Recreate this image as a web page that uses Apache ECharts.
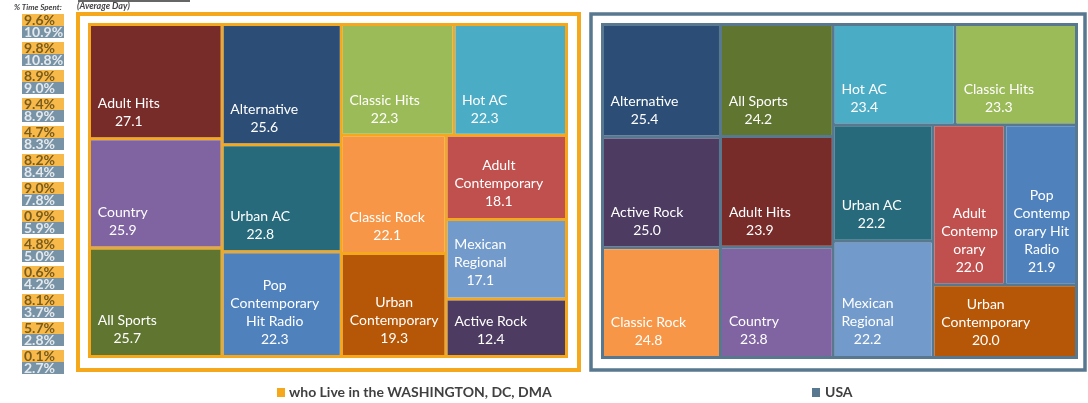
<!DOCTYPE html>
<html>
<head>
<meta charset="utf-8">
<script src="https://cdn.jsdelivr.net/npm/echarts@6/dist/echarts.min.js"></script>
<style>
html, body { margin: 0; padding: 0; background: #fff; }
#main { width: 1088px; height: 403px; }
</style>
</head>
<body>
<div id="main"></div>
<script>
// radio formats, average quarter-hour audience (DC DMA vs USA)
var dcFormats = ['Adult Hits', 'Country', 'All Sports', 'Alternative', 'Urban AC',
  'Pop Contemporary Hit Radio', 'Classic Hits', 'Hot AC', 'Classic Rock',
  'Urban Contemporary', 'Adult Contemporary', 'Mexican Regional', 'Active Rock'];
var dcValues = [27.1, 25.9, 25.7, 25.6, 22.8, 22.3, 22.3, 22.3, 22.1, 19.3, 18.1, 17.1, 12.4];

var usFormats = ['Alternative', 'Active Rock', 'Classic Rock', 'All Sports', 'Adult Hits',
  'Country', 'Hot AC', 'Classic Hits', 'Urban AC', 'Mexican Regional',
  'Adult Contemporary', 'Pop Contemporary Hit Radio', 'Urban Contemporary'];
var usValues = [25.4, 25.0, 24.8, 24.2, 23.9, 23.8, 23.4, 23.3, 22.2, 22.2, 22.0, 21.9, 20.0];

// % time spent badges (average day)
var shareRows = ['1', '2', '3', '4', '5', '6', '7', '8', '9', '10', '11', '12', '13'];
var dcShare = [9.6, 9.8, 8.9, 9.4, 4.7, 8.2, 9.0, 0.9, 4.8, 0.6, 8.1, 5.7, 0.1];
var usShare = [10.9, 10.8, 9.0, 8.9, 8.3, 8.4, 7.8, 5.9, 5.0, 4.2, 3.7, 2.8, 2.7];

var ORANGE = '#f5a81c';
var BLUE = '#587890';
var LINE_H = 18;

var colors = {
  'Adult Hits': '#772c2a',
  'Alternative': '#2c4d75',
  'Classic Hits': '#9bbb59',
  'Hot AC': '#4bacc6',
  'Country': '#8064a2',
  'Urban AC': '#276a7c',
  'Classic Rock': '#f79646',
  'Adult Contemporary': '#c0504d',
  'Mexican Regional': '#729aca',
  'All Sports': '#5f7530',
  'Pop Contemporary Hit Radio': '#4f81bd',
  'Urban Contemporary': '#b65708',
  'Active Rock': '#4d3b62'
};

var dcWrap = {
  'Adult Contemporary': 'Adult\nContemporary',
  'Mexican Regional': 'Mexican\nRegional',
  'Urban Contemporary': 'Urban\nContemporary',
  'Pop Contemporary Hit Radio': 'Pop\nContemporary\nHit Radio'
};
var usWrap = {
  'Mexican Regional': 'Mexican\nRegional',
  'Urban Contemporary': 'Urban\nContemporary',
  'Adult Contemporary': 'Adult\nContemp\norary',
  'Pop Contemporary Hit Radio': 'Pop\nContemp\norary Hit\nRadio'
};

function treeData(names, values) {
  return names.map(function (n, i) {
    return { name: n, value: values[i], itemStyle: { color: colors[n] } };
  });
}

function treeSeries(names, values, wrap, frameColor, box) {
  return {
    type: 'treemap',
    left: box[0], top: box[1], width: box[2], height: box[3],
    roam: false,
    nodeClick: false,
    sort: false,
    squareRatio: 1.18,
    breadcrumb: { show: false },
    silent: true,
    levels: [
      { itemStyle: { borderWidth: 3, borderColor: frameColor, gapWidth: 3 } },
      { itemStyle: { borderWidth: 0, gapWidth: 0 } }
    ],
    label: {
      show: true,
      formatter: function (p) {
        var n = wrap[p.name] || p.name;
        return '{t|' + n + '}\n{t|' + p.value.toFixed(1) + '}';
      },
      rich: {
        t: { align: 'center', color: '#fff', fontSize: 14, lineHeight: LINE_H, fontFamily: 'Lato' }
      }
    },
    data: treeData(names, values)
  };
}

var chart = echarts.init(document.getElementById('main'));

var option = {
  backgroundColor: '#fff',
  animation: false,
  grid: { left: 22, top: 12, width: 42, height: 364 },
  xAxis: { type: 'value', min: -1, max: 1, show: false },
  yAxis: { type: 'category', inverse: true, show: false, data: shareRows },
  graphic: [
    { type: 'line', shape: { x1: 78, y1: 1, x2: 190, y2: 1 }, style: { stroke: '#666', lineWidth: 2 } },
    { type: 'text', left: 14, top: 3, style: { text: '% Time Spent:', font: 'italic bold 8px Lato', fill: '#444' } },
    { type: 'text', left: 77, top: 2, style: { text: '(Average Day)', font: 'italic bold 9px Lato', fill: '#444' } },
    { type: 'rect', shape: { x: 78, y: 14, width: 501, height: 356 }, style: { fill: 'none', stroke: ORANGE, lineWidth: 4 } },
    { type: 'rect', shape: { x: 591, y: 14, width: 494, height: 356 }, style: { fill: 'none', stroke: BLUE, lineWidth: 3.5 } },
    { type: 'rect', shape: { x: 277, y: 388, width: 8, height: 9 }, style: { fill: ORANGE } },
    { type: 'text', x: 289, y: 392, style: { text: 'who Live in the WASHINGTON, DC, DMA', font: 'bold 14px Lato', fill: '#404040', verticalAlign: 'middle' } },
    { type: 'rect', shape: { x: 812, y: 388, width: 8, height: 9 }, style: { fill: BLUE } },
    { type: 'text', x: 825, y: 392, style: { text: 'USA', font: 'bold 14px Lato', fill: '#404040', verticalAlign: 'middle' } }
  ],
  series: [
    treeSeries(dcFormats, dcValues, dcWrap, ORANGE, [88, 23, 480, 335]),
    treeSeries(usFormats, usValues, usWrap, BLUE, [601, 23, 477, 336]),
    {
      type: 'scatter',
      silent: true,
      symbol: 'rect',
      symbolSize: [42, 12],
      symbolOffset: [0, -6],
      itemStyle: { color: ORANGE },
      label: {
        show: true, position: 'insideLeft', distance: 2,
        color: '#5a4514', fontSize: 14, fontWeight: 'bold', fontFamily: 'Lato',
        formatter: function (p) { return dcShare[p.dataIndex].toFixed(1) + '%'; }
      },
      data: dcShare.map(function (v, i) { return [0, i]; })
    },
    {
      type: 'scatter',
      silent: true,
      symbol: 'rect',
      symbolSize: [42, 12],
      symbolOffset: [0, 6],
      itemStyle: { color: BLUE },
      label: {
        show: true, position: 'insideLeft', distance: 2,
        color: '#fff', fontSize: 14, fontWeight: 'bold', fontFamily: 'Lato',
        formatter: function (p) { return usShare[p.dataIndex].toFixed(1) + '%'; }
      },
      data: usShare.map(function (v, i) { return [0, i]; })
    }
  ]
};

chart.setOption(option);

// second pass: push each label to the bottom-left of its tile,
// using the tile size the treemap layout produced
var ctx = document.createElement('canvas').getContext('2d');
ctx.font = '14px Lato';

function fitLabels(seriesIndex, names, values, wrap) {
  var tree = chart.getModel().getSeriesByIndex(seriesIndex).getData().tree;
  return tree.root.children.map(function (node, i) {
    var lay = node.getLayout();
    var lines = (wrap[names[i]] || names[i]).split('\n').concat([values[i].toFixed(1)]);
    var maxW = 0;
    lines.forEach(function (l) { maxW = Math.max(maxW, ctx.measureText(l).width); });
    var top = Math.max(Math.round(lay.height - lines.length * LINE_H - 7), 0);
    var right = Math.max(Math.floor(lay.width - 6 - maxW - 1), 0);
    return {
      name: names[i], value: values[i],
      itemStyle: { color: colors[names[i]] },
      label: { padding: [top, right, 3, 6] }
    };
  });
}

chart.setOption({
  series: [
    { data: fitLabels(0, dcFormats, dcValues, dcWrap) },
    { data: fitLabels(1, usFormats, usValues, usWrap) }
  ]
});
</script>
</body>
</html>
